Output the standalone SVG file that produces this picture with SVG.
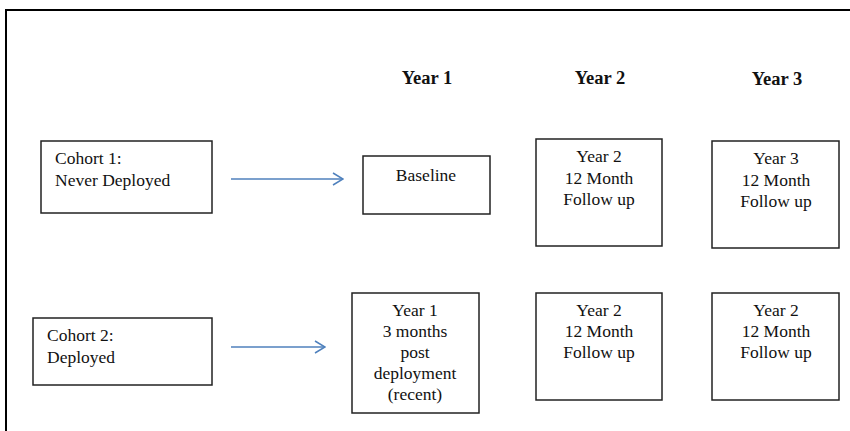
<svg xmlns="http://www.w3.org/2000/svg" width="850" height="431" viewBox="0 0 850 431">
<defs>
<style>
.box{fill:#fff;stroke:#222;stroke-width:1.5}
.t{font-family:"Liberation Serif","Times New Roman",serif;font-size:17.5px;fill:#111}
.c{text-anchor:middle}
.h{font-family:"Liberation Serif","Times New Roman",serif;font-size:18.5px;font-weight:bold;fill:#111;text-anchor:middle}
.arr{stroke:#4f81bd;stroke-width:1.5;fill:none}
</style>
<marker id="ah" viewBox="0 0 12 14" refX="11" refY="7" markerWidth="12" markerHeight="14" markerUnits="userSpaceOnUse" orient="auto">
<path d="M1,1 L11,7 L1,13" fill="none" stroke="#4f81bd" stroke-width="1.5"/>
</marker>
</defs>
<rect width="850" height="431" fill="#fff"/>
<path d="M6,431 V10 H850" fill="none" stroke="#000" stroke-width="2"/>
<g id="headers">
<text class="h" x="427" y="84">Year 1</text>
<text class="h" x="600" y="84">Year 2</text>
<text class="h" x="777" y="85">Year 3</text>
</g>
<g id="cohort1">
<rect class="box" x="41" y="141" width="171" height="72"/>
<text class="t" x="55" y="164">Cohort 1:</text>
<text class="t" x="55" y="186">Never Deployed</text>
</g>
<g id="baseline">
<rect class="box" x="363" y="156" width="127" height="58"/>
<text class="t c" x="426" y="181">Baseline</text>
</g>
<g id="c1y2">
<rect class="box" x="536" y="139" width="126" height="107"/>
<text class="t c" x="599" y="162">Year 2</text>
<text class="t c" x="599" y="184">12 Month</text>
<text class="t c" x="599" y="205">Follow up</text>
</g>
<g id="c1y3">
<rect class="box" x="712" y="141" width="127" height="107"/>
<text class="t c" x="776" y="164">Year 3</text>
<text class="t c" x="776" y="186">12 Month</text>
<text class="t c" x="776" y="207">Follow up</text>
</g>
<g id="cohort2">
<rect class="box" x="33" y="318" width="179" height="67"/>
<text class="t" x="47" y="341">Cohort 2:</text>
<text class="t" x="47" y="363">Deployed</text>
</g>
<g id="c2y1">
<rect class="box" x="352" y="293" width="127" height="120"/>
<text class="t c" x="415" y="316">Year 1</text>
<text class="t c" x="415" y="337">3 months</text>
<text class="t c" x="415" y="358">post</text>
<text class="t c" x="415" y="379">deployment</text>
<text class="t c" x="415" y="400">(recent)</text>
</g>
<g id="c2y2">
<rect class="box" x="536" y="293" width="126" height="107"/>
<text class="t c" x="599" y="316">Year 2</text>
<text class="t c" x="599" y="337">12 Month</text>
<text class="t c" x="599" y="358">Follow up</text>
</g>
<g id="c2y3">
<rect class="box" x="712" y="293" width="127" height="107"/>
<text class="t c" x="776" y="316">Year 2</text>
<text class="t c" x="776" y="337">12 Month</text>
<text class="t c" x="776" y="358">Follow up</text>
</g>
<g id="connectors">
<line class="arr" x1="231" y1="179" x2="343" y2="179" marker-end="url(#ah)"/>
<line class="arr" x1="231" y1="347" x2="325" y2="347" marker-end="url(#ah)"/>
</g>
</svg>
